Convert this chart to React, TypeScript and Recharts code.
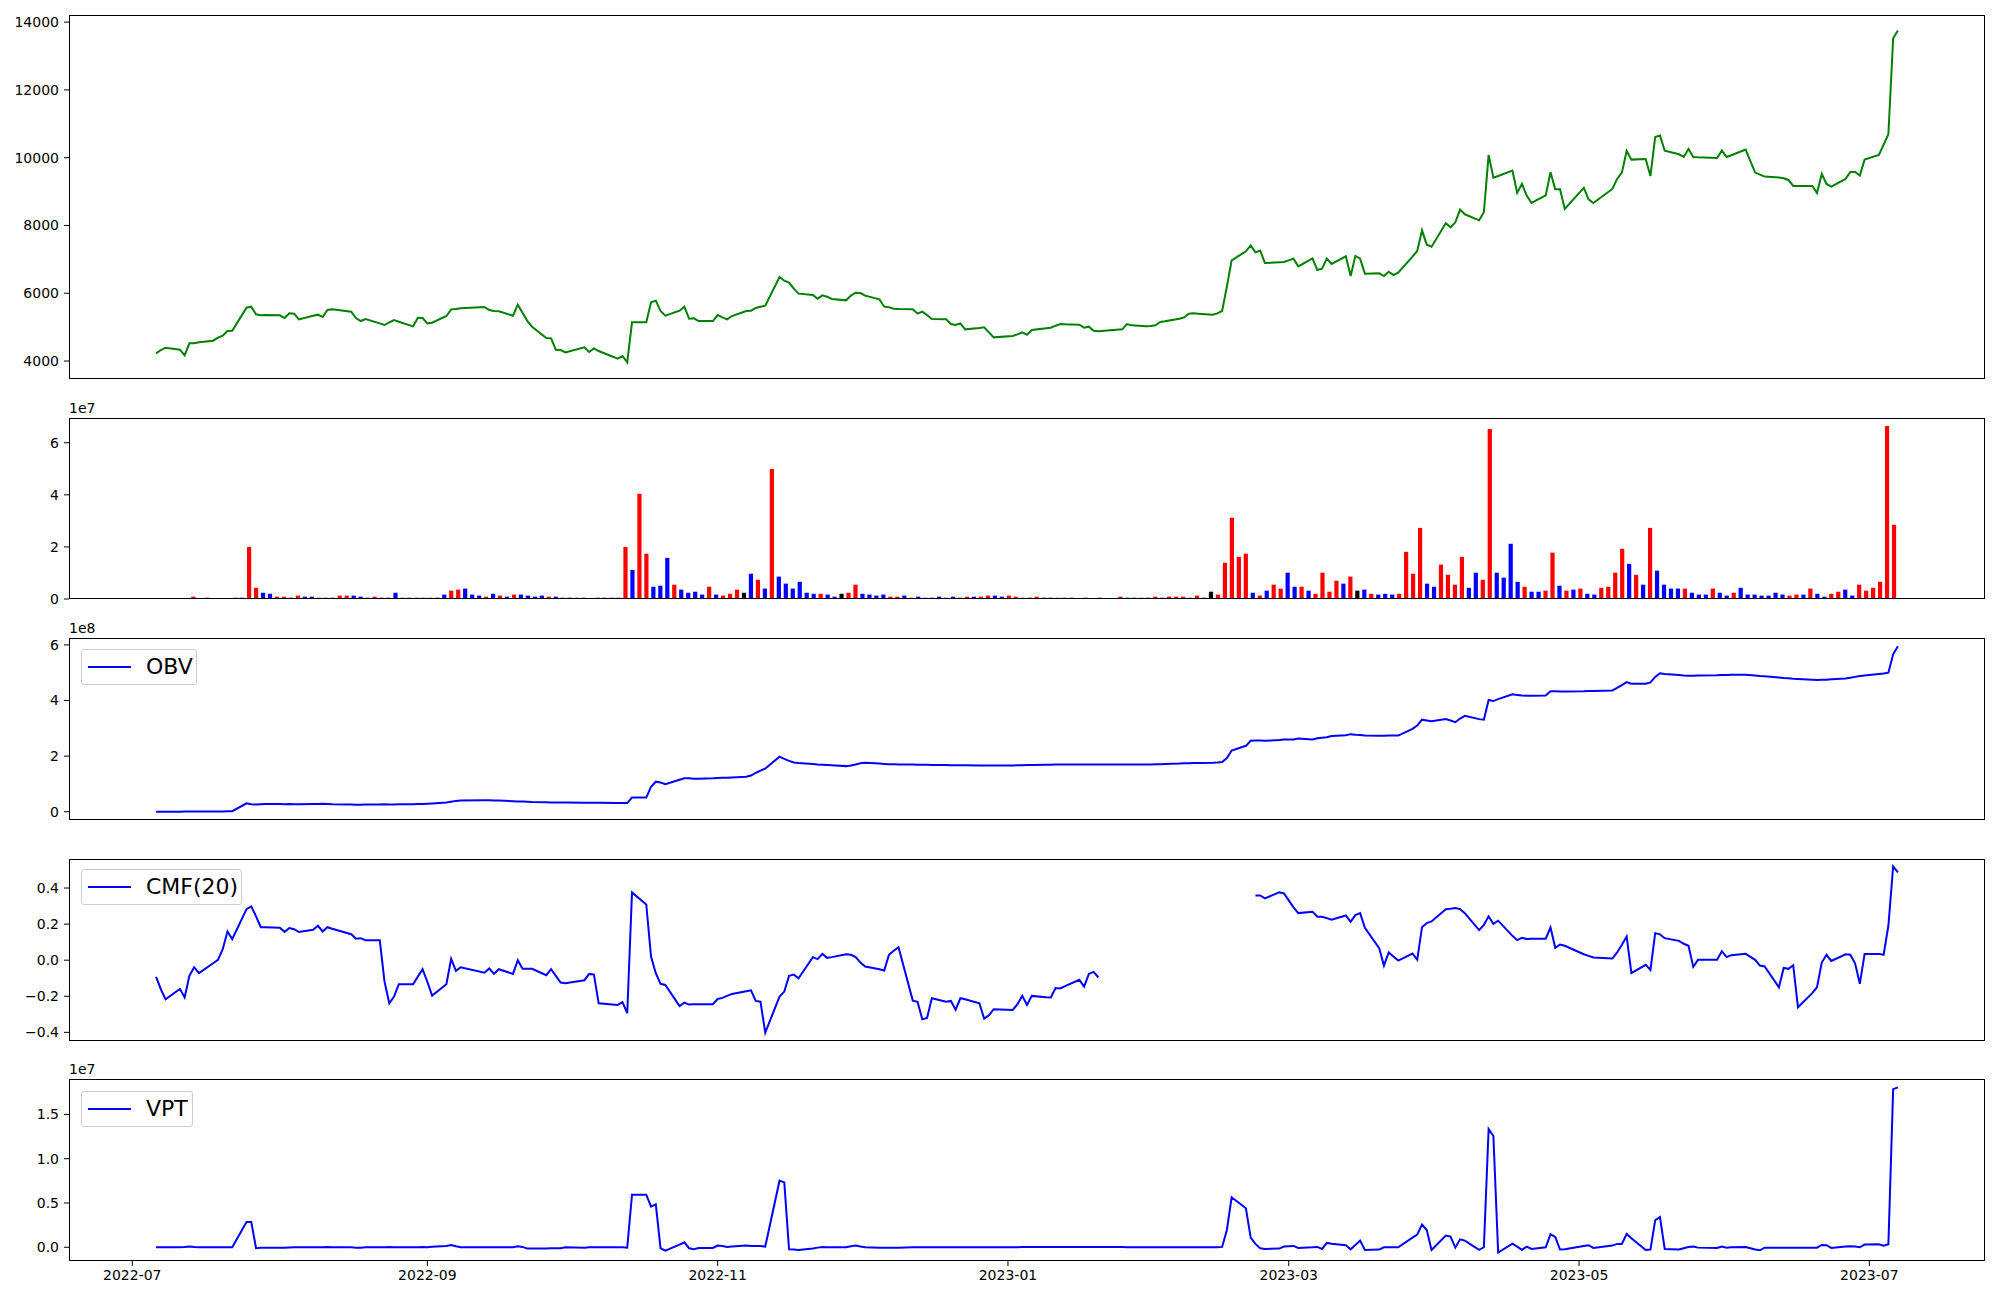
import React from "react";
import { LineChart, Line, BarChart, Bar, Cell, XAxis, YAxis } from "recharts";

const FONT = "'DejaVu Sans', sans-serif";

// trading days (KRX calendar), month -> day numbers
const TRADING_DAYS: [string, number[]][] = [
  ["2022-07", [6, 7, 8, 11, 12, 13, 14, 15, 18, 19, 20, 21, 22, 25, 26, 27, 28, 29]],
  ["2022-08", [1, 2, 3, 4, 5, 8, 9, 10, 11, 12, 16, 17, 18, 19, 22, 23, 24, 25, 26, 29, 30, 31]],
  ["2022-09", [1, 2, 5, 6, 7, 8, 13, 14, 15, 16, 19, 20, 21, 22, 23, 26, 27, 28, 29, 30]],
  ["2022-10", [4, 5, 6, 7, 11, 12, 13, 14, 17, 18, 19, 20, 21, 24, 25, 26, 27, 28, 31]],
  ["2022-11", [1, 2, 3, 4, 7, 8, 9, 10, 11, 14, 15, 16, 17, 18, 21, 22, 23, 24, 25, 28, 29, 30]],
  ["2022-12", [1, 2, 5, 6, 7, 8, 9, 12, 13, 14, 15, 16, 19, 20, 21, 22, 23, 26, 27, 28, 29]],
  ["2023-01", [2, 3, 4, 5, 6, 9, 10, 11, 12, 13, 16, 17, 18, 19, 20, 25, 26, 27, 30, 31]],
  ["2023-02", [1, 2, 3, 6, 7, 8, 9, 10, 13, 14, 15, 16, 17, 20, 21, 22, 23, 24, 27, 28]],
  ["2023-03", [2, 3, 6, 7, 8, 9, 10, 13, 14, 15, 16, 17, 20, 21, 22, 23, 24, 27, 28, 29, 30, 31]],
  ["2023-04", [3, 4, 5, 6, 7, 10, 11, 12, 13, 14, 17, 18, 19, 20, 21, 24, 25, 26, 27, 28]],
  ["2023-05", [2, 3, 4, 8, 9, 10, 11, 12, 15, 16, 17, 18, 19, 22, 23, 24, 25, 26, 30, 31]],
  ["2023-06", [1, 2, 5, 7, 8, 9, 12, 13, 14, 15, 16, 19, 20, 21, 22, 23, 26, 27, 28, 29, 30]],
  ["2023-07", [3, 4, 5, 6, 7]],
];

const CLOSE = [
  4226, 4325, 4394, 4335, 4167, 4522, 4522, 4551, 4600, 4689, 4748, 4886, 4895, 5574, 5604, 5378, 5348, 5358,
  5348, 5269, 5407, 5397, 5230, 5338, 5368, 5299, 5506, 5525, 5456, 5269, 5181, 5240, 5112, 5063, 5141, 5210, 5161, 5023, 5279, 5269,
  5112, 5132, 5328, 5525, 5535, 5555, 5594, 5506, 5476, 5466, 5338, 5663, 5427, 5181, 5014, 4679, 4669, 4335, 4325, 4256,
  4403, 4266, 4374, 4295, 4069, 4148, 3961, 5141, 5141, 5732, 5781, 5476, 5338, 5486, 5604, 5250, 5260, 5181, 5181,
  5358, 5289, 5230, 5328, 5476, 5486, 5565, 5604, 5633, 6480, 6371, 6312, 6135, 5988, 5948, 5840, 5938, 5899, 5830, 5791, 5929, 6017,
  6007, 5929, 5820, 5604, 5584, 5545, 5535, 5525, 5397, 5456, 5358, 5240, 5230, 5092, 5063, 5112, 4935, 4974, 4994, 4846, 4699,
  4738, 4787, 4846, 4777, 4915, 4964, 4984, 5043, 5092, 5082, 5073, 4984, 5014, 4895, 4876, 4935, 5092, 5053, 5023, 5033,
  5053, 5151, 5171, 5250, 5289, 5397, 5407, 5397, 5368, 5407, 5476, 6194, 6972, 7237, 7414, 7208, 7257, 6893, 6913, 6922,
  7021, 6795, 7031, 6686, 6726, 7021, 6863, 7090, 6509, 7100, 7021, 6578, 6588, 6509, 6637, 6539, 6608, 7080, 7247, 7857, 7434, 7375,
  8064, 7946, 8093, 8467, 8330, 8152, 8389, 10081, 9412, 9461, 9619, 8959, 9225, 8881, 8664, 8890, 9569, 9068, 9068, 8487,
  9107, 8772, 8664, 9077, 9373, 9560, 10199, 9943, 9963, 9461, 10612, 10652, 10209, 10101, 10022, 10258, 10022, 10012, 9993, 10209,
  10022, 10071, 10239, 9560, 9501, 9442, 9412, 9392, 9343, 9166, 9166, 9166, 8959, 9520, 9225, 9146, 9373, 9579, 9579, 9471, 9943,
  10081, 10386, 10691, 13525, 13751,
];

// volume, units of 1e7
const VOLUME = [
  0, 0, 0, 0, 0, 0.09, 0, 0.05, 0, 0, 0, 0.05, 0.05, 2.0, 0.43, 0.24, 0.2, 0.09,
  0.09, 0.05, 0.13, 0.09, 0.09, 0.05, 0.05, 0.05, 0.13, 0.13, 0.13, 0.09, 0.05, 0.09, 0.05, 0.05, 0.24, 0.05, 0.05, 0.05, 0.05, 0.05,
  0.05, 0.17, 0.32, 0.36, 0.4, 0.17, 0.13, 0.09, 0.2, 0.13, 0.09, 0.17, 0.17, 0.13, 0.09, 0.13, 0.09, 0.09, 0.05, 0.05,
  0.05, 0.05, 0, 0.05, 0.05, 0.05, 0.05, 2.0, 1.12, 4.04, 1.74, 0.47, 0.51, 1.58, 0.55, 0.36, 0.24, 0.28, 0.17,
  0.47, 0.17, 0.13, 0.2, 0.36, 0.24, 0.97, 0.74, 0.4, 4.99, 0.86, 0.59, 0.4, 0.66, 0.24, 0.2, 0.2, 0.17, 0.09, 0.2, 0.24, 0.55,
  0.2, 0.17, 0.13, 0.17, 0.09, 0.09, 0.13, 0.05, 0.09, 0.05, 0.05, 0.09, 0.05, 0.09, 0.05, 0.09, 0.09, 0.09, 0.13, 0.13, 0.09,
  0.13, 0.09, 0.05, 0.05, 0.09, 0.05, 0.05, 0.05, 0.05, 0.05, 0, 0.05, 0, 0.05, 0, 0, 0.09, 0.05, 0.05, 0.05,
  0.05, 0.09, 0.05, 0.09, 0.09, 0.09, 0.05, 0.13, 0.05, 0.28, 0.17, 1.39, 3.12, 1.62, 1.74, 0.24, 0.13, 0.32, 0.55, 0.4,
  1.01, 0.47, 0.47, 0.32, 0.2, 1.01, 0.28, 0.7, 0.59, 0.86, 0.32, 0.36, 0.2, 0.17, 0.2, 0.17, 0.2, 1.81, 0.97, 2.73, 0.59, 0.47,
  1.32, 0.93, 0.55, 1.62, 0.43, 1.01, 0.74, 6.53, 1.01, 0.82, 2.12, 0.66, 0.47, 0.28, 0.28, 0.32, 1.78, 0.51, 0.32, 0.36,
  0.4, 0.2, 0.17, 0.43, 0.47, 1.01, 1.93, 1.35, 0.93, 0.55, 2.73, 1.09, 0.55, 0.4, 0.4, 0.4, 0.24, 0.17, 0.17, 0.4,
  0.24, 0.13, 0.24, 0.43, 0.17, 0.17, 0.13, 0.13, 0.24, 0.17, 0.13, 0.17, 0.17, 0.4, 0.2, 0.09, 0.2, 0.28, 0.36, 0.13, 0.55,
  0.32, 0.43, 0.66, 6.64, 2.85,
];

// u = up day (red), d = down day (blue), n = unchanged (black)
const VOL_DIR = [
  "nnnnnundnnnuduuddu",
  "ududduuduuddduddduduuu",
  "dduudddudududddduddd",
  "udnddududuudddudddd",
  "uduuundududddddduddnuu",
  "dddduudududdudduduudd",
  "uuudunduudndndnnuddu",
  "duduuuuudnuuuuududuu",
  "dduduuuudunduddduuuudd",
  "uuuudduuddddudduudud",
  "udduuuudududdddudddu",
  "dduddddddduududduuddu",
  "uuuuu",
].join("");

// OBV, units of 1e8
const OBV = [
  0, 0, 0, 0, 0.01, 0.01, 0.01, 0.01, 0.01, 0.01, 0.01, 0.02, 0.02, 0.3, 0.27, 0.26, 0.27, 0.28,
  0.28, 0.27, 0.28, 0.27, 0.27, 0.28, 0.28, 0.29, 0.28, 0.27, 0.26, 0.25, 0.25, 0.26, 0.26, 0.27, 0.26, 0.26, 0.27, 0.27, 0.28, 0.28,
  0.29, 0.3, 0.33, 0.36, 0.39, 0.4, 0.41, 0.41, 0.4, 0.4, 0.38, 0.37, 0.37, 0.36, 0.35, 0.34, 0.33, 0.33, 0.33, 0.33,
  0.32, 0.32, 0.32, 0.32, 0.31, 0.31, 0.31, 0.51, 0.51, 0.9, 1.08, 1.05, 0.99, 1.15, 1.2, 1.2, 1.19, 1.19, 1.2,
  1.21, 1.22, 1.22, 1.23, 1.26, 1.3, 1.4, 1.48, 1.55, 1.98, 1.9, 1.83, 1.77, 1.75, 1.72, 1.7, 1.69, 1.68, 1.67, 1.64, 1.66, 1.7,
  1.74, 1.76, 1.73, 1.72, 1.71, 1.71, 1.7, 1.7, 1.69, 1.69, 1.69, 1.68, 1.68, 1.67, 1.67, 1.67, 1.67, 1.66, 1.66, 1.66, 1.66,
  1.66, 1.67, 1.67, 1.68, 1.68, 1.69, 1.69, 1.7, 1.7, 1.7, 1.7, 1.7, 1.7, 1.7, 1.7, 1.7, 1.7, 1.7, 1.7, 1.7,
  1.71, 1.71, 1.72, 1.73, 1.74, 1.74, 1.75, 1.75, 1.76, 1.77, 1.79, 1.93, 2.2, 2.37, 2.55, 2.56, 2.56, 2.55, 2.58, 2.6,
  2.6, 2.63, 2.6, 2.64, 2.66, 2.68, 2.72, 2.75, 2.79, 2.77, 2.76, 2.74, 2.73, 2.73, 2.74, 2.74, 2.74, 2.98, 3.1, 3.31, 3.28, 3.25,
  3.33, 3.28, 3.22, 3.35, 3.45, 3.33, 3.31, 4.02, 3.98, 4.05, 4.22, 4.2, 4.18, 4.17, 4.17, 4.18, 4.33, 4.33, 4.32, 4.32,
  4.33, 4.34, 4.34, 4.36, 4.45, 4.55, 4.66, 4.6, 4.6, 4.65, 4.85, 4.98, 4.95, 4.92, 4.9, 4.89, 4.89, 4.9, 4.91, 4.92,
  4.92, 4.93, 4.93, 4.9, 4.88, 4.87, 4.83, 4.81, 4.8, 4.78, 4.77, 4.75, 4.74, 4.75, 4.75, 4.76, 4.79, 4.82, 4.85, 4.88, 4.9,
  4.95, 4.97, 5.0, 5.66, 5.95,
];

// CMF(20); null where it is not defined
const CMF = [
  -0.093, -0.161, -0.217, -0.159, -0.207, -0.087, -0.039, -0.072, -0.017, 0.002, 0.061, 0.159, 0.117, 0.283, 0.298, 0.243, 0.183, 0.183,
  0.18, 0.157, 0.178, 0.172, 0.156, 0.169, 0.191, 0.159, 0.183, 0.174, 0.144, 0.119, 0.122, 0.111, 0.111, -0.119, -0.239, -0.202, -0.133, -0.133, -0.091, -0.05,
  -0.12, -0.196, -0.133, 0.007, -0.059, -0.039, -0.069, -0.046, -0.076, -0.05, -0.076, 0, -0.048, -0.048, -0.048, -0.083, -0.05, -0.087, -0.124, -0.128,
  -0.111, -0.076, -0.08, -0.239, -0.248, -0.233, -0.294, 0.376, 0.309, 0.02, -0.072, -0.131, -0.137, -0.254, -0.235, -0.246, -0.244, -0.244, -0.244,
  -0.215, -0.209, -0.198, -0.187, -0.172, -0.167, -0.226, -0.23, -0.402, -0.202, -0.174, -0.087, -0.08, -0.1, 0.017, 0.006, 0.035, 0.013, 0.017, 0.033, 0.03, 0.017,
  -0.013, -0.035, -0.05, -0.057, 0.03, 0.052, 0.072, -0.224, -0.231, -0.328, -0.32, -0.211, -0.23, -0.226, -0.274, -0.211, -0.217, -0.239, -0.324, -0.306, -0.272,
  -0.276, -0.244, -0.198, -0.248, -0.198, -0.206, -0.207, -0.154, -0.157, -0.144, -0.109, -0.146, -0.076, -0.065, -0.096, null, null, null, null, null,
  null, null, null, null, null, null, null, null, null, null, null, null, null, null, null, 0.359, 0.359, 0.343, 0.376, 0.37,
  0.293, 0.261, 0.269, 0.241, 0.241, 0.233, 0.224, 0.248, 0.213, 0.25, 0.261, 0.18, 0.067, -0.03, 0.043, 0.02, -0.002, 0.037, 0.002, 0.183, 0.206, 0.215,
  0.283, 0.285, 0.289, 0.283, 0.261, 0.167, 0.196, 0.243, 0.202, 0.219, 0.135, 0.111, 0.124, 0.117, 0.119, 0.119, 0.181, 0.069, 0.087, 0.08,
  0.033, 0.024, 0.015, 0.009, 0.043, 0.085, 0.131, -0.072, -0.026, -0.054, 0.15, 0.143, 0.122, 0.107, 0.091, 0.08, -0.037, 0.002, 0.002, 0.05,
  0.017, 0.028, 0.035, 0.002, -0.03, -0.035, -0.15, -0.043, -0.048, -0.028, -0.261, -0.183, -0.15, -0.013, 0.03, -0.004, 0.033, 0.03, -0.017, -0.131, 0.035,
  0.035, 0.03, 0.191, 0.52, 0.487,
];

// VPT, units of 1e7
const VPT = [
  0, 0, 0, 0, 0.003, 0.01, 0.003, 0, 0, 0, 0, 0, 0, 0.286, 0.286, -0.01, -0.005, -0.005,
  -0.004, -0.004, -0.002, 0, 0, 0, 0, 0, 0.004, 0, 0, -0.004, -0.004, 0, 0, 0, 0.002, 0, 0, 0, 0, 0.002,
  0, 0.005, 0.015, 0.026, 0.012, 0, 0, 0, 0, 0, 0, 0.011, 0.004, -0.015, -0.015, -0.013, -0.012, -0.012, -0.011, 0,
  -0.004, 0, 0, 0, 0, 0, -0.004, 0.594, 0.594, 0.459, 0.485, -0.011, -0.038, 0.03, 0.056, -0.011, -0.023, -0.008, -0.008,
  0.019, 0.015, 0.004, 0.008, 0.019, 0.015, 0.015, 0.015, 0.008, 0.752, 0.733, -0.023, -0.026, -0.03, -0.015, -0.004, 0.004, 0, 0, 0, 0.011, 0.019,
  0.008, 0, -0.004, -0.004, -0.004, -0.004, -0.004, 0, 0, 0, 0, 0, 0, 0, 0, 0, 0, 0, 0, 0, 0,
  0, 0, 0.002, 0.002, 0.002, 0.002, 0.002, 0.002, 0.002, 0.002, 0.002, 0.002, 0.002, 0.002, 0.002, 0.002, 0, 0, 0, 0,
  0, 0, 0, 0, 0, 0, 0, 0, 0, 0, 0.004, 0.195, 0.564, 0.44, 0.109, 0.038, -0.011, -0.019, -0.015, 0.008,
  0.015, -0.008, 0, 0.004, -0.019, 0.049, 0.041, 0.023, -0.023, 0.026, 0.075, -0.03, -0.026, 0, 0, 0, 0, 0.109, 0.143, 0.256, 0.195, -0.03,
  0.132, 0.12, -0.004, 0.09, 0.075, -0.03, 0, 1.335, 1.256, -0.06, 0.041, 0.008, -0.03, 0.008, -0.019, 0, 0.147, 0.117, -0.026, -0.023,
  0.015, 0.023, -0.008, 0.019, 0.038, 0.038, 0.15, 0.102, -0.03, -0.026, 0.305, 0.342, -0.019, -0.026, -0.011, 0.004, 0.008, -0.004, -0.008, 0.008,
  -0.004, 0, 0.004, -0.026, -0.034, -0.004, -0.004, -0.004, -0.004, -0.004, -0.004, -0.004, -0.004, 0.026, 0.023, -0.008, 0.008, 0.011, 0.008, 0, 0.03,
  0.034, 0.019, 0.034, 1.786, 1.805,
];

const X_TICK_MONTHS = ["2022-07", "2022-09", "2022-11", "2023-01", "2023-03", "2023-05", "2023-07"];

const DATES = TRADING_DAYS.flatMap(([ym, days]) =>
  days.map((d) => Date.parse(`${ym}-${String(d).padStart(2, "0")}T00:00:00Z`))
);
const rows = DATES.map((t, i) => ({ t, close: CLOSE[i], obv: OBV[i], cmf: CMF[i], vpt: VPT[i] }));
const volRows = VOLUME.map((v, i) => ({ i, v, dir: VOL_DIR[i] }));
const X_TICKS = X_TICK_MONTHS.map((m) => Date.parse(`${m}-01T00:00:00Z`));

const span = DATES[DATES.length - 1] - DATES[0];
const X_DOMAIN: [number, number] = [DATES[0] - span * 0.05, DATES[DATES.length - 1] + span * 0.05];

const W = 2000;
const LEFT = 69;
const RIGHT = 1985;
const PAD = 14;
const MARGIN = { top: PAD, bottom: PAD, left: LEFT - 60, right: W - RIGHT };
const DIR_COLOR: Record<string, string> = { u: "#ff0000", d: "#0000ff", n: "#000000" };

const tickStyle = { fill: "#000", fontSize: 14, fontFamily: FONT };
const minus = (s: string) => s.replace("-", "\u2212");

function Frame({ top, height }: { top: number; height: number }) {
  return (
    <div
      style={{
        position: "absolute",
        left: LEFT,
        top,
        width: RIGHT - LEFT,
        height,
        border: "1px solid #000",
        boxSizing: "border-box",
        pointerEvents: "none",
      }}
    />
  );
}

function OffsetText({ top, text }: { top: number; text: string }) {
  return (
    <div style={{ position: "absolute", left: LEFT, top: top - 17, fontFamily: FONT, fontSize: 14, lineHeight: "14px" }}>
      {text}
    </div>
  );
}

function LegendBox({ top, width, label }: { top: number; width: number; label: string }) {
  return (
    <div
      style={{
        position: "absolute",
        left: 81,
        top,
        width,
        height: 36,
        border: "1px solid #cccccc",
        borderRadius: 3,
        background: "rgba(255,255,255,0.8)",
        boxSizing: "border-box",
      }}
    >
      <div style={{ position: "absolute", left: 6, top: 16, width: 43, height: 2, background: "#0000ff" }} />
      <div
        style={{
          position: "absolute",
          left: 64,
          top: 0,
          height: 34,
          lineHeight: "34px",
          fontFamily: FONT,
          fontSize: 22,
          color: "#000",
          whiteSpace: "nowrap",
        }}
      >
        {label}
      </div>
    </div>
  );
}

function yAxis(domain: [number, number], ticks: number[], fmt: (v: number) => string) {
  return (
    <YAxis
      type="number"
      domain={domain}
      ticks={ticks}
      interval={0}
      allowDataOverflow
      width={60}
      axisLine={false}
      tickLine={{ stroke: "#000" }}
      tickSize={5}
      tickMargin={5}
      tick={tickStyle}
      tickFormatter={fmt}
    />
  );
}

function LinePanel({
  top,
  height,
  dataKey,
  color,
  domain,
  ticks,
  fmt,
  showX = false,
}: {
  top: number;
  height: number;
  dataKey: string;
  color: string;
  domain: [number, number];
  ticks: number[];
  fmt: (v: number) => string;
  showX?: boolean;
}) {
  const xH = showX ? 30 : 0;
  return (
    <div style={{ position: "absolute", left: 0, top: top - PAD }}>
      <LineChart width={W} height={height + 2 * PAD + xH} data={rows} margin={MARGIN}>
        <XAxis
          dataKey="t"
          type="number"
          domain={X_DOMAIN}
          allowDataOverflow
          ticks={X_TICKS}
          interval={0}
          hide={!showX}
          height={xH}
          axisLine={false}
          tickLine={{ stroke: "#000" }}
          tickSize={5}
          tickMargin={4}
          tick={tickStyle}
          tickFormatter={(v: number) => new Date(v).toISOString().slice(0, 7)}
        />
        {yAxis(domain, ticks, fmt)}
        <Line
          type="linear"
          dataKey={dataKey}
          stroke={color}
          strokeWidth={2}
          dot={false}
          activeDot={false}
          connectNulls={false}
          isAnimationActive={false}
        />
      </LineChart>
    </div>
  );
}

export default function App() {
  const P1 = { top: 15, h: 364 };
  const P2 = { top: 418, h: 181 };
  const P3 = { top: 638, h: 182 };
  const P4 = { top: 859, h: 182 };
  const P5 = { top: 1079, h: 182 };

  return (
    <div style={{ position: "absolute", left: 0, top: 0, width: W, height: 1300, background: "#fff", overflow: "hidden" }}>
      <LinePanel
        top={P1.top}
        height={P1.h}
        dataKey="close"
        color="#008000"
        domain={[3470, 14210]}
        ticks={[4000, 6000, 8000, 10000, 12000, 14000]}
        fmt={(v) => String(v)}
      />
      <Frame top={P1.top} height={P1.h} />

      <div style={{ position: "absolute", left: 0, top: P2.top - PAD }}>
        <BarChart width={W} height={P2.h + 2 * PAD} data={volRows} margin={MARGIN} barSize={4.2}>
          <XAxis dataKey="i" type="category" hide padding={{ left: 86.4, right: 87.1 }} />
          {yAxis([0, 6.95], [0, 2, 4, 6], (v) => String(v))}
          <Bar dataKey="v" isAnimationActive={false}>
            {volRows.map((r) => (
              <Cell key={r.i} fill={DIR_COLOR[r.dir] || "#000"} />
            ))}
          </Bar>
        </BarChart>
      </div>
      <Frame top={P2.top} height={P2.h} />
      <OffsetText top={P2.top} text="1e7" />

      <LinePanel
        top={P3.top}
        height={P3.h}
        dataKey="obv"
        color="#0000ff"
        domain={[-0.2975, 6.2475]}
        ticks={[0, 2, 4, 6]}
        fmt={(v) => String(v)}
      />
      <Frame top={P3.top} height={P3.h} />
      <OffsetText top={P3.top} text="1e8" />
      <LegendBox top={649} width={116} label="OBV" />

      <LinePanel
        top={P4.top}
        height={P4.h}
        dataKey="cmf"
        color="#0000ff"
        domain={[-0.448, 0.561]}
        ticks={[-0.4, -0.2, 0, 0.2, 0.4]}
        fmt={(v) => minus(v.toFixed(1))}
      />
      <Frame top={P4.top} height={P4.h} />
      <LegendBox top={869} width={161} label="CMF(20)" />

      <LinePanel
        top={P5.top}
        height={P5.h}
        dataKey="vpt"
        color="#0000ff"
        domain={[-0.155, 1.9]}
        ticks={[0, 0.5, 1, 1.5]}
        fmt={(v) => v.toFixed(1)}
        showX
      />
      <Frame top={P5.top} height={P5.h} />
      <OffsetText top={P5.top} text="1e7" />
      <LegendBox top={1091} width={112} label="VPT" />
    </div>
  );
}
